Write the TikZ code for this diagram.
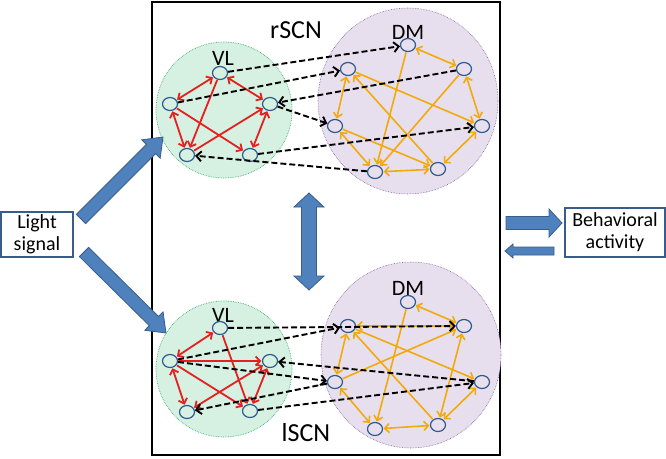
\documentclass[tikz,border=0pt]{standalone}
\usepackage{fontspec}
\setmainfont{Carlito}
\usetikzlibrary{shapes.geometric,arrows.meta,calc}
\definecolor{vlfill}{HTML}{D6F0E2}
\definecolor{vlline}{HTML}{3CB371}
\definecolor{dmfill}{HTML}{E8DFEE}
\definecolor{dmline}{HTML}{7A5A9A}
\definecolor{redc}{HTML}{E3211E}
\definecolor{orangec}{HTML}{F2AA0A}
\definecolor{nodec}{HTML}{2E5A8C}
\definecolor{bluefill}{HTML}{4F81BD}
\definecolor{blueline}{HTML}{385D8A}
\tikzset{
  cell/.style={ellipse,draw=nodec,line width=1.2pt,minimum width=15pt,minimum height=13pt,inner sep=0pt},
  vlarea/.style={circle,fill=vlfill,draw=vlline,densely dotted,line width=0.7pt,minimum size=136pt,inner sep=0pt},
  dmarea/.style={ellipse,fill=dmfill,draw=dmline,densely dotted,line width=0.6pt,minimum width=180pt,minimum height=186pt,inner sep=0pt},
  redl/.style={draw=redc,line width=1.8pt,shorten >=0.5pt,shorten <=0.5pt},
  orgl/.style={draw=orangec,line width=1.6pt,shorten >=0.5pt,shorten <=0.5pt},
  sa/.style={-{Straight Barb[length=4.5pt,width=9pt]}},
  da/.style={{Straight Barb[length=4.5pt,width=9pt]}-{Straight Barb[length=4.5pt,width=9pt]}},
  dashl/.style={draw=black,line width=1.9pt,dash pattern=on 6pt off 3pt,-{Straight Barb[length=5pt,width=10pt]}},
  blocky/.style={fill=bluefill,draw=blueline,line width=0.8pt,line join=miter},
  infobox/.style={draw=blueline,line width=1.1pt,fill=white,align=center,font=\fontsize{20}{22}\selectfont,inner sep=0pt},
  lbl/.style={font=\fontsize{22}{24}\selectfont,inner sep=0pt},
  biglbl/.style={font=\fontsize{26}{28}\selectfont,inner sep=0pt}
}
\newcommand\blockarrow[5]{%
  \coordinate (bac) at ($(#2)!#5!(#1)$);
  \draw[blocky] ($(#1)!#3!90:(#2)$) -- ($(bac)!#3!90:(#2)$) -- ($(bac)!#4!90:(#2)$) -- (#2)
    -- ($(bac)!#4!-90:(#2)$) -- ($(bac)!#3!-90:(#2)$) -- ($(#1)!#3!-90:(#2)$) -- cycle;
}
\begin{document}
\begin{tikzpicture}[x=1pt,y=-1pt]
\useasboundingbox (0,0) rectangle (666,458);
% main frame
\draw[line width=1.3pt] (152,2) rectangle (500,455);
% areas
\node[vlarea] (uvl0) at (224,110) {};
\node[dmarea] (udm0) at (408,101) {};
\node[vlarea] (lvl0) at (224,369) {};
\node[dmarea] (ldm0) at (411,355) {};
% labels
\node[biglbl] (rscn) at (296,30) {rSCN};
\node[biglbl] (lscn) at (306,433) {lSCN};
\node[lbl] (udmlab) at (408,32) {DM};
\node[lbl] (uvllab) at (223,58) {VL};
\node[lbl] (ldmlab) at (408,288) {DM};
\node[lbl] (lvllab) at (223,315) {VL};
% upper VL cells
\node[cell] (uvt) at (220,73) {};
\node[cell] (uvl) at (170,104) {};
\node[cell] (uvr) at (270,104) {};
\node[cell] (uvbl) at (187,155) {};
\node[cell] (uvbr) at (250,155) {};
% upper DM cells
\node[cell] (udt) at (408,45) {};
\node[cell] (udul) at (348,69) {};
\node[cell] (udur) at (464,69) {};
\node[cell] (udl) at (335,126) {};
\node[cell] (udr) at (482,126) {};
\node[cell] (udbl) at (375,172) {};
\node[cell] (udbr) at (438,169) {};
% lower VL cells
\node[cell] (lvt) at (220,328) {};
\node[cell] (lvl) at (170,361) {};
\node[cell] (lvr) at (270,361) {};
\node[cell] (lvbl) at (187,412) {};
\node[cell] (lvbr) at (250,411) {};
% lower DM cells
\node[cell] (ldt) at (408,302) {};
\node[cell] (ldul) at (348,326) {};
\node[cell] (ldur) at (464,326) {};
\node[cell] (ldl) at (335,382) {};
\node[cell] (ldr) at (482,382) {};
\node[cell] (ldbl) at (375,429) {};
\node[cell] (ldbr) at (438,425) {};
% red upper
\draw[redl,da] (uvt) -- (uvl);
\draw[redl,da] (uvt) -- (uvr);
\draw[redl,da] (uvl) -- (uvbl);
\draw[redl,da] (uvr) -- (uvbr);
\draw[redl,sa] (uvt) -- (uvbl);
\draw[redl,sa] (uvl) -- (uvbr);
\draw[redl,sa] (uvbl) -- (uvr);
% red lower
\draw[redl,da] (lvt) -- (lvl);
\draw[redl,sa] (lvl) -- (lvr);
\draw[redl,da] (lvl) -- (lvbl);
\draw[redl,da] (lvr) -- (lvbr);
\draw[redl,sa] (lvt) -- (lvbr);
\draw[redl,sa] (lvl) -- (lvbr);
\draw[redl,da] (lvbl) -- (lvr);
% orange upper
\draw[orgl,da] (udt) -- (udur);
\draw[orgl,da] (udul) -- (udl);
\draw[orgl,da] (udur) -- (udr);
\draw[orgl,da] (udl) -- (udbl);
\draw[orgl,da] (udbl) -- (udbr);
\draw[orgl,da] (udr) -- (udbr);
\draw[orgl,sa] (udt) -- (udbl);
\draw[orgl,sa] (udur) -- (udbl);
\draw[orgl,sa] (udul) -- (udr);
\draw[orgl,sa] (udbr) -- (udul);
\draw[orgl,sa] (udl) -- (udbr);
% orange lower
\draw[orgl,da] (ldt) -- (ldur);
\draw[orgl,sa] (ldur) -- (ldul);
\draw[orgl,da] (ldul) -- (ldl);
\draw[orgl,da] (ldl) -- (ldbl);
\draw[orgl,da] (ldbl) -- (ldbr);
\draw[orgl,da] (ldbr) -- (ldr);
\draw[orgl,da] (ldur) -- (ldbr);
\draw[orgl,sa] (ldt) -- (ldbl);
\draw[orgl,sa] (ldl) -- (ldur);
\draw[orgl,sa] (ldul) -- (ldr);
\draw[orgl,sa] (ldbr) -- (ldul);
% dashed upper
\draw[dashl] (uvt) -- (udt);
\draw[dashl] (uvl) -- (udul);
\draw[dashl] (udur) -- (uvr);
\draw[dashl] (uvr) -- (udl);
\draw[dashl] (uvbr) -- (udr);
\draw[dashl] (udbl) -- (uvbl);
% dashed lower
\draw[dashl] (lvt) -- (ldur);
\draw[dashl] (lvl) -- (ldul);
\draw[dashl] (ldr) -- (lvr);
\draw[dashl] (lvl) -- (ldl);
\draw[dashl] (lvbr) -- (ldr);
\draw[dashl] (ldl) -- (lvbl);
% boxes
\node[infobox,minimum width=72pt,minimum height=45pt] (light) at (37,234.5) {Light\\signal};
\node[infobox,minimum width=100pt,minimum height=49pt] (behav) at (615,232.5) {Behavioral\\activity};
% block arrows
\coordinate (la1s) at (81,219);
\coordinate (la1t) at (163,137);
\coordinate (la2s) at (84,252);
\coordinate (la2t) at (166,333);
\blockarrow{la1s}{la1t}{6.5pt}{13pt}{17pt}
\blockarrow{la2s}{la2t}{6.5pt}{13pt}{17pt}
\coordinate (ba1s) at (506,223);
\coordinate (ba1t) at (562,223);
\coordinate (ba2s) at (554,251);
\coordinate (ba2t) at (505,251);
\blockarrow{ba1s}{ba1t}{6.5pt}{14pt}{13pt}
\blockarrow{ba2s}{ba2t}{4pt}{7pt}{8pt}
% vertical double arrow
\coordinate (vtop) at (309,193);
\coordinate (vbot) at (309,290);
\draw[blocky] (vtop) -- (324,207) -- (316.5,207) -- (316.5,276) -- (324,276) -- (vbot)
  -- (294,276) -- (301.5,276) -- (301.5,207) -- (294,207) -- cycle;
\end{tikzpicture}
\end{document}
